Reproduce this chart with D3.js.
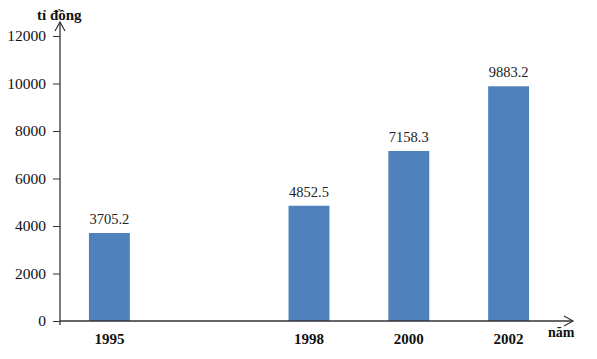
<!DOCTYPE html>
<html>
<head>
<meta charset="utf-8">
<script src="https://cdn.jsdelivr.net/npm/d3@7"></script>
<style>
  html, body { margin: 0; padding: 0; background: #fff; }
  svg { display: block; }
  svg text { font-family: "Liberation Serif", "Times New Roman", serif !important; }
</style>
</head>
<body>
<svg id="chart" width="597" height="359"></svg>
<script>
const categories = ["1995", "1998", "2000", "2002"];
const slots = ["1995", "gap", "1998", "2000", "2002"];
const values = [3705.2, 4852.5, 7158.3, 9883.2];
const yTicks = [0, 2000, 4000, 6000, 8000, 10000, 12000];
const yTitle = "tỉ đồng";
const xTitle = "năm";

const svg = d3.select("#chart");
const x0 = 60, y0 = 321;
const axisColor = "#333";

const x = d3.scaleBand().domain(slots).range([59.5, 558.5]).paddingInner(0.59).paddingOuter(0.295);
const y = d3.scaleLinear().domain([0, 12000]).range([y0, 36]);

// bars
svg.append("g").selectAll("rect").data(categories).join("rect")
  .attr("x", d => x(d))
  .attr("width", x.bandwidth())
  .attr("y", (d, i) => y(values[i]))
  .attr("height", (d, i) => y0 - y(values[i]))
  .attr("fill", "#4F81BD");

// value labels
svg.append("g").selectAll("text").data(categories).join("text")
  .attr("x", d => x(d) + x.bandwidth() / 2)
  .attr("y", (d, i) => y(values[i]) - 9)
  .attr("text-anchor", "middle")
  .style("font-size", "14.5px")
  .attr("fill", "#222")
  .text((d, i) => values[i].toFixed(1));

// y axis
const yAxis = d3.axisLeft(y).tickValues(yTicks).tickSize(7).tickPadding(7).tickFormat(d3.format("d"));
const gy = svg.append("g").attr("transform", `translate(${x0},0)`).call(yAxis);
gy.select(".domain").remove();
gy.selectAll(".tick line").attr("stroke", axisColor);
gy.selectAll(".tick text").style("font-size", "15.5px").attr("fill", "#111");

svg.append("line").attr("x1", x0).attr("x2", x0).attr("y1", y0 + 4).attr("y2", 22)
  .attr("stroke", axisColor).attr("stroke-width", 1.3);
svg.append("path").attr("d", `M${x0 - 5},31 L${x0},22 L${x0 + 5},31`)
  .attr("fill", "none").attr("stroke", axisColor).attr("stroke-width", 1.2);

// x axis
const xAxis = d3.axisBottom(x).tickValues(categories).tickSize(0).tickPadding(12);
const gx = svg.append("g").attr("transform", `translate(0,${y0})`).call(xAxis);
gx.select(".domain").remove();
gx.selectAll(".tick text").style("font-size", "15px").style("font-weight", "bold").attr("fill", "#111");

svg.append("line").attr("x1", x0).attr("x2", 573).attr("y1", y0).attr("y2", y0)
  .attr("stroke", axisColor).attr("stroke-width", 1.3);
svg.append("path").attr("d", `M564,${y0 - 5} L573,${y0} L564,${y0 + 5}`)
  .attr("fill", "none").attr("stroke", axisColor).attr("stroke-width", 1.2);

// titles
svg.append("text").attr("x", 37).attr("y", 20)
  .style("font-size", "15px").style("font-weight", "bold").attr("fill", "#111")
  .text(yTitle);
svg.append("text").attr("x", 548).attr("y", 337)
  .style("font-size", "14px").style("font-weight", "bold").attr("fill", "#111")
  .text(xTitle);
</script>
</body>
</html>
